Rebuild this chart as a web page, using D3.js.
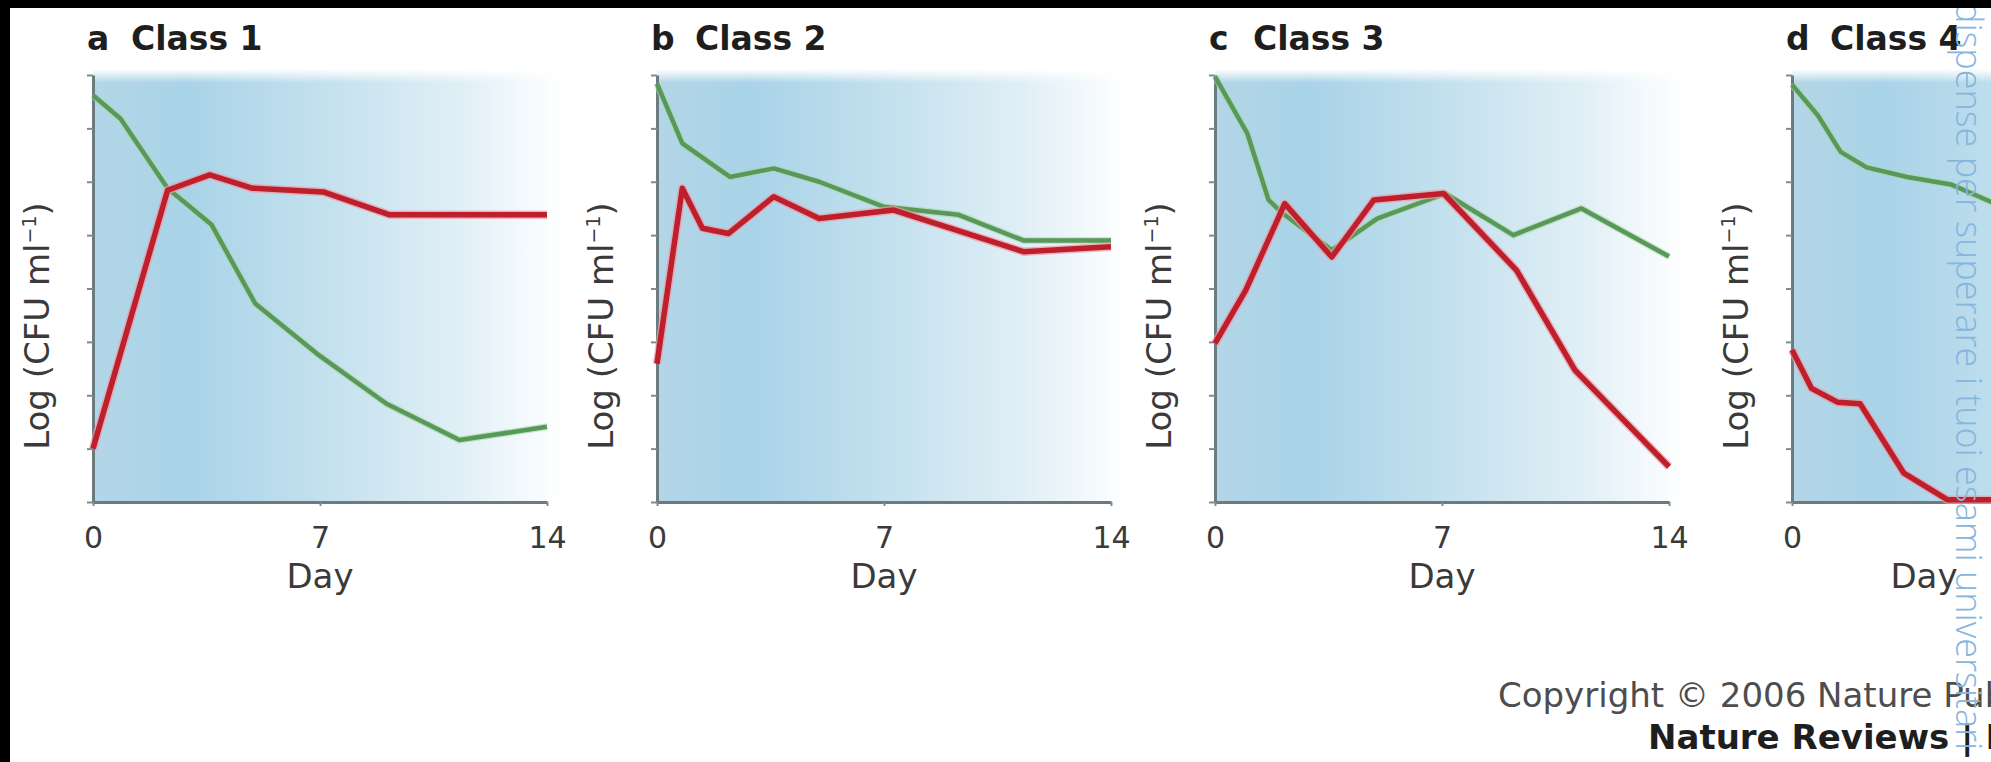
<!DOCTYPE html>
<html>
<head>
<meta charset="utf-8">
<script src="https://cdn.jsdelivr.net/npm/d3@7/dist/d3.min.js"></script>
<style>
  html, body { margin: 0; padding: 0; background: #fff; overflow: hidden; }
  svg { display: block; }
  .title { font-family: "DejaVu Sans", sans-serif; font-weight: bold; font-size: 33px; fill: #1e1e1e; }
  .axis text { font-family: "DejaVu Sans", sans-serif; font-size: 30px; fill: #3a3a3a; }
  .axis-label { font-family: "DejaVu Sans", sans-serif; font-size: 34px; fill: #3a3a3a; }
  .axis .domain { stroke: #6c7b80; stroke-width: 3; }
  .axis .tick line { stroke: #7d8c91; stroke-width: 2; }
</style>
</head>
<body>
<svg id="chart" width="1991" height="762"></svg>
<script>
// panels
const panelLetters = ["a", "b", "c", "d"];
const panelTitles = ["Class 1", "Class 2", "Class 3", "Class 4"];
const dayTicks = [0, 7, 14];
const logTicks = [0, 1, 2, 3, 4, 5, 6, 7, 8];

// [day, log CFU/ml]
const class1Green = [[0, 7.62], [0.85, 7.18], [2.3, 5.88], [3.65, 5.2], [5.0, 3.72], [6.9, 2.78], [9.05, 1.84], [11.3, 1.16], [14, 1.41]];
const class1Red = [[0, 1.0], [2.3, 5.84], [3.6, 6.13], [4.9, 5.88], [7.1, 5.81], [9.15, 5.38], [14, 5.38]];

const class2Green = [[0, 7.84], [0.78, 6.72], [2.25, 6.09], [3.6, 6.25], [5.0, 6.0], [7.0, 5.53], [9.3, 5.38], [11.3, 4.9], [14, 4.9]];
const class2Red = [[0, 2.59], [0.78, 5.88], [1.4, 5.13], [2.2, 5.03], [3.6, 5.72], [5.0, 5.31], [7.3, 5.47], [9.4, 5.06], [11.3, 4.69], [14, 4.78]];

const class3Green = [[0, 7.97], [1.0, 6.9], [1.65, 5.66], [2.1, 5.4], [3.6, 4.72], [5.0, 5.31], [7.1, 5.78], [9.2, 5.0], [11.3, 5.5], [14, 4.6]];
const class3Red = [[0, 2.97], [0.95, 3.97], [2.15, 5.59], [3.6, 4.59], [4.9, 5.66], [7.05, 5.78], [9.3, 4.34], [11.1, 2.47], [14, 0.66]];

const class4Green = [[0, 7.82], [0.8, 7.24], [1.5, 6.56], [2.3, 6.27], [3.55, 6.09], [4.9, 5.95], [6.6, 5.5]];
const class4Red = [[0, 2.85], [0.6, 2.13], [1.4, 1.87], [2.1, 1.84], [3.45, 0.54], [4.8, 0.04], [6.8, 0.04]];

const greenSeries = [class1Green, class2Green, class3Green, class4Green];
const redSeries = [class1Red, class2Red, class3Red, class4Red];

const width = 1991, height = 762;
const panelLeft = [93, 657, 1215, 1792];
const plotTop = 75, plotBottom = 502;
const plotWidth = 454;
const plotHeight = plotBottom - plotTop;
// the last panel runs off the page; its "Day" sits where the scan shows it
const dayLabelX = [227, 227, 227, 132];

const svg = d3.select("#chart");

svg.append("rect").attr("width", width).attr("height", height).attr("fill", "#fff");

const defs = svg.append("defs");
const grad = defs.append("linearGradient").attr("id", "bg").attr("x1", 0).attr("x2", 1).attr("y1", 0).attr("y2", 0);
[[0, "#b3d6e7"], [0.2, "#a9d3e8"], [0.5, "#c4e1ee"], [0.78, "#e0eff6"], [0.93, "#f5fafd"], [1, "#ffffff"]]
  .forEach(s => grad.append("stop").attr("offset", s[0]).attr("stop-color", s[1]));
const topFade = defs.append("linearGradient").attr("id", "topfade").attr("x1", 0).attr("x2", 0).attr("y1", 0).attr("y2", 1);
topFade.append("stop").attr("offset", 0).attr("stop-color", "#fff").attr("stop-opacity", 1);
topFade.append("stop").attr("offset", 1).attr("stop-color", "#fff").attr("stop-opacity", 0);

const x = d3.scaleLinear().domain([0, 14]).range([0, plotWidth]);
const y = d3.scaleLinear().domain([0, 8]).range([plotHeight, 0]);

const line = d3.line()
  .x(d => x(d[0]))
  .y(d => y(d[1]));

panelLetters.forEach((letter, i) => {
  const g = svg.append("g")
    .attr("transform", "translate(" + panelLeft[i] + "," + plotTop + ")");

  // shaded background
  g.append("rect")
    .attr("x", 0).attr("y", -6)
    .attr("width", plotWidth + 16).attr("height", plotHeight + 6)
    .attr("fill", "url(#bg)");
  g.append("rect")
    .attr("x", 0).attr("y", -6)
    .attr("width", plotWidth + 16).attr("height", 14)
    .attr("fill", "url(#topfade)");

  // title
  const title = g.append("text").attr("class", "title").attr("y", 50 - plotTop);
  title.append("tspan").attr("x", -6).text(letter);
  title.append("tspan").attr("x", 38).text(panelTitles[i]);

  // axes
  g.append("g")
    .attr("class", "axis y-axis")
    .call(d3.axisLeft(y).tickValues(logTicks).tickSize(6).tickSizeOuter(0).tickFormat(""));

  g.append("g")
    .attr("class", "axis x-axis")
    .attr("transform", "translate(0," + plotHeight + ")")
    .call(d3.axisBottom(x).tickValues(dayTicks).tickSize(4).tickSizeOuter(0).tickPadding(21));

  g.append("text")
    .attr("class", "axis-label")
    .attr("x", dayLabelX[i])
    .attr("y", 588 - plotTop)
    .attr("text-anchor", "middle")
    .text("Day");

  const yl = g.append("text")
    .attr("class", "axis-label")
    .attr("text-anchor", "middle")
    .attr("transform", "translate(-44," + (326 - plotTop) + ") rotate(-90)");
  yl.append("tspan").text("Log (CFU ml");
  yl.append("tspan").attr("font-size", 19).attr("dy", -13).text("\u22121");
  yl.append("tspan").attr("dy", 13).text(")");

  // series: green under red
  g.append("path").datum(greenSeries[i])
    .attr("d", line).attr("fill", "none")
    .attr("stroke", "#a9d8a2").attr("stroke-opacity", 0.6).attr("stroke-width", 7)
    .attr("stroke-linejoin", "round");
  g.append("path").datum(greenSeries[i])
    .attr("d", line).attr("fill", "none")
    .attr("stroke", "#58985a").attr("stroke-width", 4.5)
    .attr("stroke-linejoin", "round");

  g.append("path").datum(redSeries[i])
    .attr("d", line).attr("fill", "none")
    .attr("stroke", "#ee9aa2").attr("stroke-opacity", 0.7).attr("stroke-width", 8.5)
    .attr("stroke-linejoin", "round");
  g.append("path").datum(redSeries[i])
    .attr("d", line).attr("fill", "none")
    .attr("stroke", "#bd1f2d").attr("stroke-width", 5.5)
    .attr("stroke-linejoin", "round");
});

// copyright lines
svg.append("text")
  .attr("x", 1498).attr("y", 707)
  .attr("font-family", "DejaVu Sans, sans-serif").attr("font-size", 34).attr("fill", "#4d4d4d")
  .text("Copyright \u00a9 2006 Nature Publishing Group");
svg.append("text")
  .attr("x", 1648).attr("y", 749)
  .attr("font-family", "DejaVu Sans, sans-serif").attr("font-size", 34).attr("font-weight", "bold").attr("fill", "#1e1e1e")
  .text("Nature Reviews | Microbiology");

// page watermark on the right edge
svg.append("text")
  .attr("transform", "translate(1956,2) rotate(90)")
  .attr("font-family", "Open Sans, sans-serif").attr("font-weight", 300).attr("font-size", 36).attr("fill", "#86b6de")
  .text("dispense per superare i tuoi esami universitari");

// black edges of the scan
svg.append("rect").attr("x", 0).attr("y", 0).attr("width", width).attr("height", 8).attr("fill", "#000");
svg.append("rect").attr("x", 0).attr("y", 0).attr("width", 10).attr("height", height).attr("fill", "#000");
</script>
</body>
</html>
